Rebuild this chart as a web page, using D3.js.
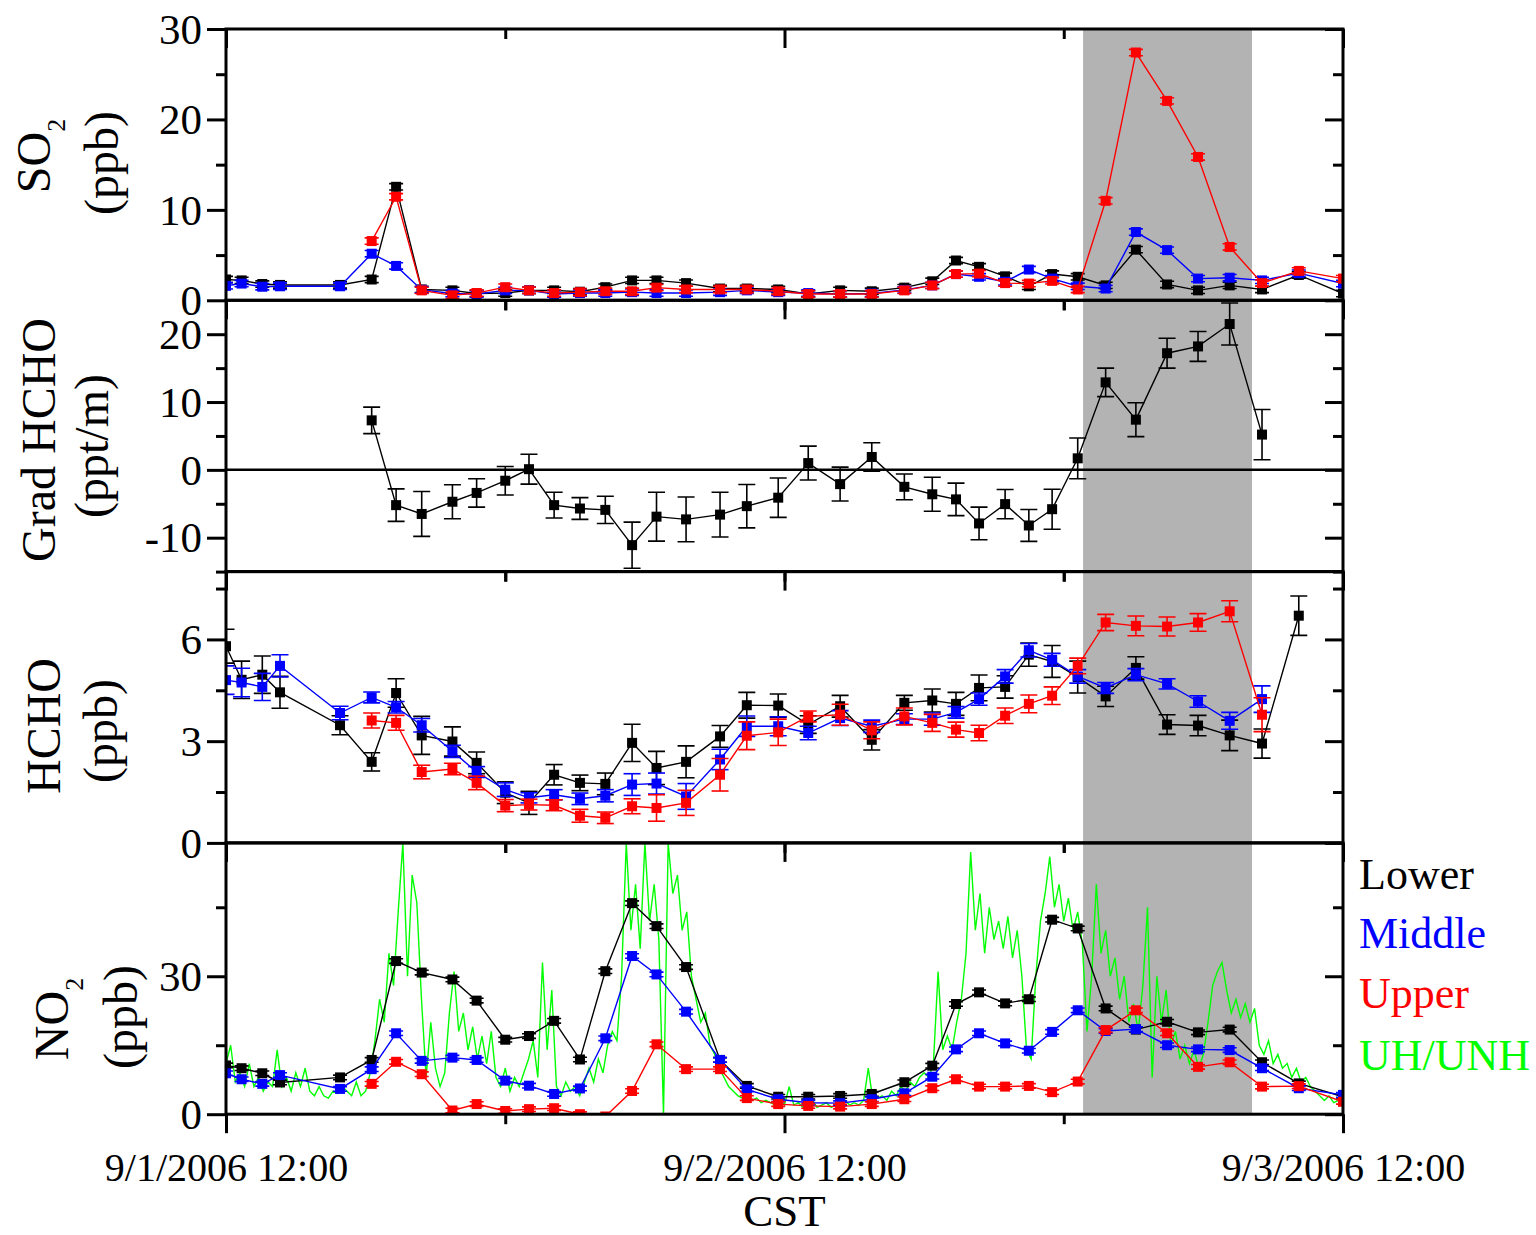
<!DOCTYPE html>
<html><head><meta charset="utf-8">
<script src="https://cdn.jsdelivr.net/npm/d3@7"></script>
<style>
body{margin:0;background:#fff}
svg{display:block}
text{font-family:"Liberation Serif","Times New Roman",serif}
</style>
</head><body>
<svg id="c" width="1536" height="1235"></svg>
<script>
// ---------------- DATA (hours after 9/1/2006 12:00 CST) ----------------
const hours = [0, 0.67, 1.56, 2.32, 4.9, 6.26, 7.31, 8.41, 9.73, 10.77, 12.0, 13.02, 14.1, 15.21, 16.3, 17.45, 18.5, 19.77, 21.23, 22.38, 23.73, 25.02, 26.39, 27.75, 29.15, 30.35, 31.37, 32.36, 33.48, 34.5, 35.5, 36.6, 37.8, 39.1, 40.44, 41.77, 43.13, 44.52, 46.1, 48.0];

const so2Lower  = [2.3, 2.2, 1.8, 1.7, 1.7, 2.3, 12.55, 1.2, 1.1, 0.75, 0.8, 1.1, 1.1, 0.95, 1.45, 2.2, 2.2, 1.9, 1.3, 1.3, 1.2, 0.7, 1.1, 1.0, 1.4, 2.1, 4.4, 3.7, 2.65, 1.55, 2.9, 2.6, 1.65, 5.6, 1.75, 1.1, 1.65, 1.2, 2.8, 0.75];
const so2Middle = [1.6, 1.85, 1.5, 1.55, 1.55, 5.15, 3.8, 1.15, 0.75, 0.7, 1.1, 1.1, 0.7, 0.8, 0.8, 0.9, 0.8, 0.8, 0.9, 1.1, 0.9, 0.8, 0.7, 0.75, 1.15, 1.65, 2.9, 2.6, 2.05, 3.4, 2.4, 1.55, 1.3, 7.55, 5.55, 2.4, 2.5, 2.2, 3.0, 1.85];
const so2Upper  = [null, null, null, null, null, 6.55, 11.45, 1.1, 0.55, 0.8, 1.45, 1.1, 0.8, 0.9, 1.0, 1.0, 1.4, 1.2, 1.2, 1.2, 1.0, 0.7, 0.7, 0.7, 1.1, 1.65, 2.9, 2.95, 1.9, 1.85, 2.15, 1.2, 11.0, 27.4, 22.05, 15.85, 5.9, 1.9, 3.25, 2.4];
const so2ErrorBar = 0.35;

const gradHCHO    = [null, null, null, null, null, 7.3, -5.2, -6.5, -4.7, -3.4, -1.6, 0.1, -5.2, -5.7, -5.9, -11.1, -6.9, -7.3, -6.6, -5.35, -4.1, 1.0, -2.1, 1.9, -2.5, -3.6, -4.35, -7.9, -5.05, -8.2, -5.8, 1.7, 12.9, 7.4, 17.2, 18.2, 21.5, 5.2, null, null];
const gradHCHOErr = [null, null, null, null, null, 1.95, 2.4, 3.3, 2.5, 2.1, 2.1, 2.2, 1.9, 1.6, 2.0, 3.4, 3.6, 3.3, 3.3, 3.2, 2.9, 2.5, 2.5, 2.1, 1.9, 2.5, 2.4, 2.4, 2.15, 2.35, 2.95, 3.0, 2.1, 2.5, 2.2, 2.2, 3.1, 3.7, null, null];

const hchoLower     = [5.8, 4.81, 4.96, 4.44, 3.47, 2.39, 4.42, 3.17, 2.99, 2.36, 1.48, 1.18, 2.01, 1.77, 1.74, 2.95, 2.21, 2.39, 3.14, 4.06, 4.05, 3.49, 4.03, 3.04, 4.13, 4.2, 4.1, 4.57, 4.6, 5.55, 5.35, 4.89, 4.32, 5.16, 3.49, 3.46, 3.17, 2.93, 6.7, null];
const hchoLowerErr  = [0.5, 0.55, 0.55, 0.47, 0.28, 0.27, 0.42, 0.56, 0.43, 0.32, 0.32, 0.34, 0.3, 0.23, 0.32, 0.55, 0.49, 0.47, 0.32, 0.38, 0.34, 0.26, 0.32, 0.3, 0.22, 0.34, 0.34, 0.38, 0.33, 0.34, 0.47, 0.47, 0.3, 0.33, 0.29, 0.3, 0.45, 0.43, 0.58, null];
const hchoMiddle    = [4.8, 4.73, 4.6, 5.22, 3.83, 4.29, 4.0, 3.47, 2.7, 2.09, 1.57, 1.33, 1.42, 1.3, 1.39, 1.72, 1.75, 1.37, 2.46, 3.44, 3.44, 3.24, 3.68, 3.44, 3.65, 3.65, 3.85, 4.24, 4.91, 5.68, 5.4, 4.91, 4.57, 4.96, 4.69, 4.17, 3.6, 4.24, null, null];
const hchoMiddleErr = [0.42, 0.42, 0.4, 0.33, 0.2, 0.16, 0.17, 0.2, 0.18, 0.16, 0.2, 0.15, 0.15, 0.17, 0.18, 0.32, 0.31, 0.38, 0.3, 0.3, 0.28, 0.2, 0.22, 0.18, 0.16, 0.18, 0.17, 0.18, 0.2, 0.2, 0.19, 0.2, 0.16, 0.18, 0.15, 0.17, 0.25, 0.39, null, null];
const hchoUpper     = [null, null, null, null, null, 3.61, 3.54, 2.09, 2.18, 1.77, 1.1, 1.13, 1.11, 0.8, 0.74, 1.08, 1.03, 1.18, 2.01, 3.16, 3.26, 3.73, 3.78, 3.32, 3.73, 3.54, 3.34, 3.24, 3.75, 4.1, 4.34, 5.22, 6.5, 6.4, 6.38, 6.5, 6.83, 3.78, null, null];
const hchoUpperErr  = [null, null, null, null, null, 0.22, 0.22, 0.2, 0.17, 0.2, 0.18, 0.16, 0.16, 0.19, 0.17, 0.22, 0.39, 0.37, 0.48, 0.41, 0.39, 0.16, 0.31, 0.25, 0.25, 0.25, 0.22, 0.23, 0.23, 0.26, 0.26, 0.23, 0.24, 0.29, 0.28, 0.26, 0.31, 0.5, null, null];

const no2Lower  = [10.6, 10.0, 8.9, 6.9, 8.0, 11.8, 33.3, 30.8, 29.3, 24.7, 16.2, 17.0, 20.3, 11.9, 31.1, 45.9, 40.9, 32.0, 11.8, 6.15, 3.8, 3.8, 3.97, 4.4, 6.95, 10.55, 23.96, 26.5, 24.1, 25.0, 42.3, 40.4, 23.0, 18.4, 20.1, 17.8, 18.4, 11.3, 6.7, 3.8];
const no2Middle = [8.9, 7.6, 6.6, 8.5, 5.5, 9.8, 17.6, 11.6, 12.3, 11.8, 7.3, 6.2, 4.4, 5.6, 16.5, 34.4, 30.4, 22.3, 11.8, 5.4, 3.25, 2.5, 2.4, 3.25, 4.55, 8.15, 14.1, 17.6, 15.4, 13.8, 17.9, 22.6, 18.1, 18.5, 15.0, 14.1, 13.95, 10.0, 5.65, 4.2];
const no2Upper  = [null, null, null, null, null, 6.6, 11.4, 8.7, 0.8, 2.2, 0.7, 1.1, 1.3, 0.0, -0.5, 5.05, 15.2, 9.8, 9.8, 3.5, 2.2, 1.8, 1.65, 2.2, 3.25, 5.65, 7.6, 6.0, 6.0, 6.15, 4.8, 7.1, 18.3, 22.6, 17.6, 10.3, 11.3, 6.0, 6.1, 2.7];
const no2ErrorBar = 0.5;

// UH/UNH NO2, sampled every 0.2 h from 9/1 12:00
const uhStart = 0, uhStep = 0.2;
const uhValues = [
 11,15,7,9,6,11,6,8,5,7,6,14,6,8,5,9,6,10,5,4,6,4,3.5,5,4.5,
 6,5,4,7,4,5,9,16,25,20,35,28,44,59,30,52,46,25,8,20,10,6,9,22,31,
 18,22,14,19,12,17,11,18,8,6,10,5,8,6,9,12,16,8,33,14,27,6,4,7,5,
 6,4,7,10,7,12,9,15,18,16,30,59,40,50,36,59,42,50,38,0,59,48,52,40,44,
 30,25,20,22,15,13,10,8,6,5,4,3.5,4,3,3.5,2.5,3,2.5,2,3,2,6,2,2.5,1.5,
 2,3,1.5,2,2.5,1.5,2,2,3,2,2.5,2,3,10,3,3.5,4,3,5,4,6,5,7,6,8,
 9,8,11,31,14,17,14,20,25,35,57,40,48,35,45,38,42,36,43,34,40,30,14,12,30,
 42,48,56,45,50,42,47,40,44,37,18,30,50,35,40,30,34,25,30,20,24,18,28,45,8,
 30,20,27,15,18,12,15,11,14,10,13,20,28,31,33,27,22,25,21,24,20,23,15,13,16,
 11,13,10,11,8,10,7,8,6,5,4,3,4,2.5,3,4
];

const shadeHours = [36.83, 44.09];
const xMajorHours = [0, 24, 48];
const xTickLabels = ["9/1/2006 12:00", "9/2/2006 12:00", "9/3/2006 12:00"];
const xMinorHours = [12, 36];
const xTitle = "CST";
const legendLabels = ["Lower", "Middle", "Upper", "UH/UNH"];
const seriesColors = ["#000000", "#0000ff", "#ff0000", "#00ff00"];

// ---------------- LAYOUT ----------------
const X0 = 226, X1 = 1343, TOP = 29, PH = 271.3;
const svg = d3.select("#c");
const x = d3.scaleLinear().domain([0, 48]).range([X0, X1]);

const panels = [
  {domain:[0,30], major:[0,10,20,30], minor:[5,15,25], fmt:d=>String(d),
   title1:["SO","2"], title2:"(ppb)", t1x:50, t1y:156, t2x:118, t2y:163},
  {domain:[-15,25], major:[-10,0,10,20], minor:[-15,-5,5,15], fmt:d=>String(d),
   title1:["Grad HCHO"], title2:"(ppt/m)", t1x:55, t1y:440, t2x:108, t2y:446},
  {domain:[0,8], major:[0,3,6], minor:[1.5,4.5,7.5], fmt:d=>String(d),
   title1:["HCHO"], title2:"(ppb)", t1x:60, t1y:726, t2x:117, t2y:731},
  {domain:[0,59], major:[0,30], minor:[15,45], fmt:d=>String(d),
   title1:["NO","2"], title2:"(ppb)", t1x:68, t1y:1019, t2x:137, t2y:1017}
];
panels.forEach((p,i)=>{
  p.y0 = TOP + i*PH; p.y1 = p.y0 + PH;
  p.y = d3.scaleLinear().domain(p.domain).range([p.y1, p.y0]);
});

// shading
svg.append("rect")
  .attr("x", x(shadeHours[0])).attr("y", TOP)
  .attr("width", x(shadeHours[1]) - x(shadeHours[0]))
  .attr("height", 4*PH).attr("fill", "#b3b3b3");

const defs = svg.append("defs");
panels.forEach((p,i)=>{
  defs.append("clipPath").attr("id","clip"+i).append("rect")
    .attr("x", X0).attr("y", p.y0).attr("width", X1-X0).attr("height", PH);
});

function drawSeries(g, p, vals, errs, color, capHalf, markSize){
  const pts = hours.map((h,i)=>({h, v:vals[i], e: (errs==null? null : (typeof errs==="number"? errs : errs[i]))}))
                   .filter(d=>d.v!=null);
  const line = d3.line().x(d=>x(d.h)).y(d=>p.y(d.v));
  g.append("path").attr("d", line(pts)).attr("fill","none")
    .attr("stroke", color).attr("stroke-width", 1.4);
  const eg = g.append("g").attr("stroke", color).attr("stroke-width", 1.6);
  pts.filter(d=>d.e!=null).forEach(d=>{
    const cx = x(d.h), yt = p.y(d.v + d.e), yb = p.y(d.v - d.e);
    eg.append("line").attr("x1",cx).attr("x2",cx).attr("y1",yt).attr("y2",yb);
    eg.append("line").attr("x1",cx-capHalf).attr("x2",cx+capHalf).attr("y1",yt).attr("y2",yt);
    eg.append("line").attr("x1",cx-capHalf).attr("x2",cx+capHalf).attr("y1",yb).attr("y2",yb);
  });
  g.append("g").selectAll("rect").data(pts).join("rect")
    .attr("x", d=>x(d.h)-markSize/2).attr("y", d=>p.y(d.v)-markSize/2)
    .attr("width", markSize).attr("height", markSize).attr("fill", color);
}

// panel 0: SO2
{
  const p = panels[0];
  const g = svg.append("g").attr("clip-path","url(#clip0)");
  drawSeries(g, p, so2Lower,  so2ErrorBar, seriesColors[0], 7, 10);
  drawSeries(g, p, so2Middle, so2ErrorBar, seriesColors[1], 7, 10);
  drawSeries(g, p, so2Upper,  so2ErrorBar, seriesColors[2], 7, 10);
}
// panel 1: gradient
{
  const p = panels[1];
  const g = svg.append("g").attr("clip-path","url(#clip1)");
  g.append("line").attr("x1",X0).attr("x2",X1).attr("y1",p.y(0)).attr("y2",p.y(0))
    .attr("stroke","#000").attr("stroke-width",2.5);
  drawSeries(g, p, gradHCHO, gradHCHOErr, seriesColors[0], 8.5, 10);
}
// panel 2: HCHO
{
  const p = panels[2];
  const g = svg.append("g").attr("clip-path","url(#clip2)");
  drawSeries(g, p, hchoLower,  hchoLowerErr,  seriesColors[0], 8.5, 10);
  drawSeries(g, p, hchoMiddle, hchoMiddleErr, seriesColors[1], 8.5, 10);
  drawSeries(g, p, hchoUpper,  hchoUpperErr,  seriesColors[2], 8.5, 10);
}
// panel 3: NO2
{
  const p = panels[3];
  const g = svg.append("g").attr("clip-path","url(#clip3)");
  const uh = uhValues.map((v,i)=>({h: uhStart + i*uhStep, v}));
  g.append("path").attr("d", d3.line().x(d=>x(d.h)).y(d=>p.y(d.v))(uh))
    .attr("fill","none").attr("stroke", seriesColors[3]).attr("stroke-width", 1.4);
  drawSeries(g, p, no2Lower,  no2ErrorBar, seriesColors[0], 7, 10);
  drawSeries(g, p, no2Middle, no2ErrorBar, seriesColors[1], 7, 10);
  drawSeries(g, p, no2Upper,  no2ErrorBar, seriesColors[2], 7, 10);
}

// axes & frames
function styleAxis(sel){
  sel.select(".domain").remove();
  sel.selectAll(".tick line").attr("stroke","#000").attr("stroke-width",3);
  sel.selectAll(".tick text").attr("fill","#000")
     .style("font-family",'"Liberation Serif","Times New Roman",serif');
}
panels.forEach((p,i)=>{
  const gl = svg.append("g").attr("transform",`translate(${X0},0)`)
    .call(d3.axisLeft(p.y).tickValues(p.major).tickSize(19).tickPadding(5).tickFormat(p.fmt));
  styleAxis(gl);
  gl.selectAll(".tick text").attr("font-size",43).attr("dy","0.33em");
  const glm = svg.append("g").attr("transform",`translate(${X0},0)`)
    .call(d3.axisLeft(p.y).tickValues(p.minor).tickSize(10).tickFormat(""));
  styleAxis(glm);
  const gr = svg.append("g").attr("transform",`translate(${X1},0)`)
    .call(d3.axisRight(p.y).tickValues(p.major).tickSize(-18).tickFormat(""));
  styleAxis(gr);
  const grm = svg.append("g").attr("transform",`translate(${X1},0)`)
    .call(d3.axisRight(p.y).tickValues(p.minor).tickSize(-10).tickFormat(""));
  styleAxis(grm);
  const gt = svg.append("g").attr("transform",`translate(0,${p.y0})`)
    .call(d3.axisTop(x).tickValues(xMajorHours).tickSize(-19).tickFormat(""));
  styleAxis(gt);
  const gtm = svg.append("g").attr("transform",`translate(0,${p.y0})`)
    .call(d3.axisTop(x).tickValues(xMinorHours).tickSize(-10).tickFormat(""));
  styleAxis(gtm);
  const isLast = i===panels.length-1;
  const gb = svg.append("g").attr("transform",`translate(0,${p.y1})`)
    .call(d3.axisBottom(x).tickValues(xMajorHours).tickSize(isLast?19:10).tickPadding(8)
      .tickFormat(isLast ? (d,j)=>xTickLabels[j] : ""));
  styleAxis(gb);
  gb.selectAll(".tick text").attr("font-size",40).attr("dy","1.0em");
  const gbm = svg.append("g").attr("transform",`translate(0,${p.y1})`)
    .call(d3.axisBottom(x).tickValues(xMinorHours).tickSize(10).tickFormat(""));
  styleAxis(gbm);
  svg.append("rect").attr("x",X0).attr("y",p.y0).attr("width",X1-X0).attr("height",PH)
    .attr("fill","none").attr("stroke","#000").attr("stroke-width",3);

  const t1 = svg.append("text").attr("transform",`translate(${p.t1x},${p.t1y}) rotate(-90)`)
    .attr("text-anchor","middle").attr("font-size",48).attr("fill","#000");
  t1.append("tspan").text(p.title1[0]);
  if (p.title1[1]) t1.append("tspan").attr("font-size",26).attr("dy",15).text(p.title1[1]);
  svg.append("text").attr("transform",`translate(${p.t2x},${p.t2y}) rotate(-90)`)
    .attr("text-anchor","middle").attr("font-size",48).attr("fill","#000").text(p.title2);
});

svg.append("text").attr("x", x(24)).attr("y", 1226).attr("text-anchor","middle")
  .attr("font-size",45).attr("fill","#000").text(xTitle);

const legY = [889, 948, 1008, 1070];
svg.append("g").selectAll("text").data(legendLabels).join("text")
  .attr("x", 1359).attr("y", (d,i)=>legY[i]).attr("font-size",44)
  .attr("fill", (d,i)=>seriesColors[i]).text(d=>d);
</script>
</body></html>
